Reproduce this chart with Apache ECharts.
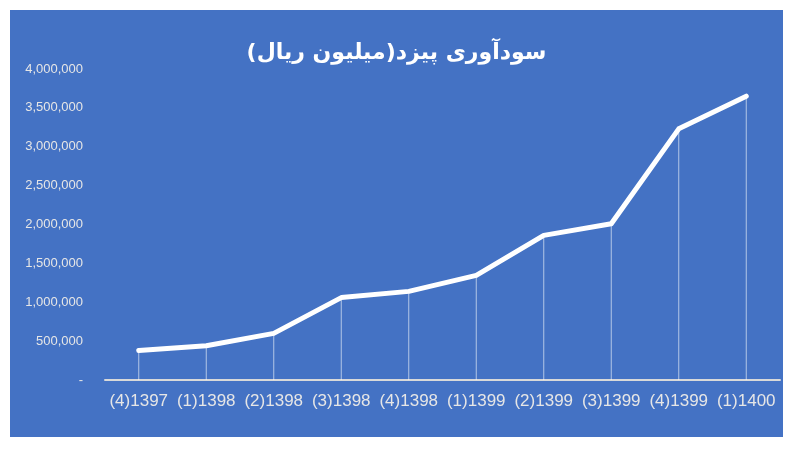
<!DOCTYPE html>
<html>
<head>
<meta charset="utf-8">
<script src="https://cdn.jsdelivr.net/npm/echarts@6/dist/echarts.min.js"></script>
<style>
html,body{margin:0;padding:0;background:#ffffff;width:800px;height:450px;overflow:hidden;}
#chart{position:absolute;left:10px;top:10px;width:773px;height:427px;}
</style>
</head>
<body>
<div id="chart"></div>
<script>
var titleText = "\u200Fسودآوری پیزد(میلیون ریال)\u200F";
var categories = ["(4)1397","(1)1398","(2)1398","(3)1398","(4)1398","(1)1399","(2)1399","(3)1399","(4)1399","(1)1400"];
var profitValues = [380000, 440000, 600000, 1060000, 1140000, 1345000, 1860000, 2010000, 3230000, 3650000];
var yTicks = {min: 0, max: 4000000, interval: 500000};

var chart = echarts.init(document.getElementById('chart'));
chart.setOption({
  backgroundColor: '#4472C4',
  animation: false,
  title: {
    text: titleText,
    left: 'center',
    top: 27,
    textStyle: {color: '#ffffff', fontSize: 22, fontWeight: 'bold', fontFamily: 'DejaVu Sans'}
  },
  grid: {left: 95, right: 3, top: 59, bottom: 57},
  xAxis: {
    type: 'category',
    data: categories,
    boundaryGap: true,
    axisLine: {show: true, lineStyle: {color: '#d9d9d9', width: 2}},
    axisTick: {show: false},
    axisLabel: {color: '#e6e6e6', fontSize: 17, fontFamily: 'Liberation Sans', margin: 13, interval: 0}
  },
  yAxis: {
    type: 'value',
    min: yTicks.min,
    max: yTicks.max,
    interval: yTicks.interval,
    splitLine: {show: false},
    axisLine: {show: false},
    axisTick: {show: false},
    axisLabel: {
      color: '#e6e6e6', fontSize: 13, fontFamily: 'Liberation Sans', margin: 22,
      formatter: function (v) { return v === 0 ? '-' : v.toLocaleString('en-US'); }
    }
  },
  series: [
    {
      type: 'bar',
      data: profitValues,
      barWidth: 1,
      itemStyle: {color: 'rgba(255,255,255,0.6)'},
      silent: true
    },
    {
      type: 'line',
      data: profitValues,
      showSymbol: false,
      symbol: 'none',
      lineStyle: {color: '#ffffff', width: 5, cap: 'round', join: 'round'},
      z: 5
    }
  ]
});
</script>
</body>
</html>
